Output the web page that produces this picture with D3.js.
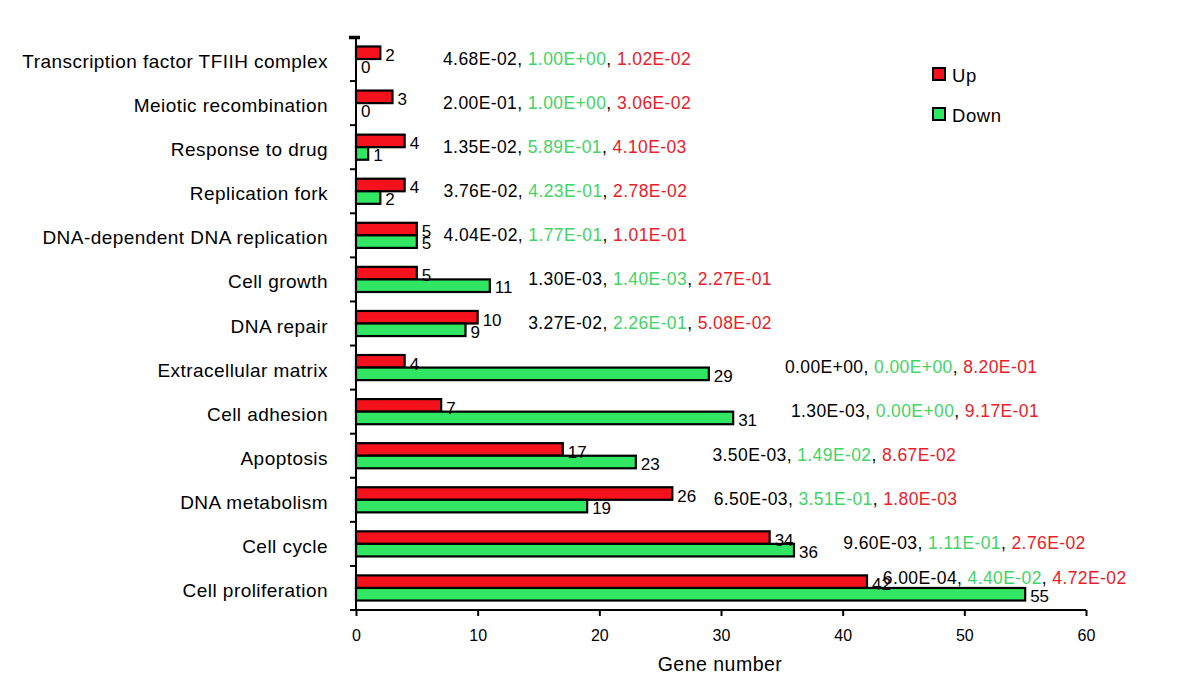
<!DOCTYPE html>
<html><head><meta charset="utf-8">
<script src="https://cdn.jsdelivr.net/npm/d3@7"></script>
<style>body{margin:0;background:#fff;} svg{display:block;font-family:"Liberation Sans",Arial,Helvetica,sans-serif;}</style>
</head><body>
<svg id="chart" width="1200" height="689"></svg>
<script>
const categories = ["Transcription factor TFIIH complex","Meiotic recombination","Response to drug","Replication fork","DNA-dependent DNA replication","Cell growth","DNA repair","Extracellular matrix","Cell adhesion","Apoptosis","DNA metabolism","Cell cycle","Cell proliferation"];
const upValues   = [2,3,4,4,5,5,10,4,7,17,26,34,42];
const downValues = [0,0,1,2,5,11,9,29,31,23,19,36,55];
const pAll  = ["4.68E-02","2.00E-01","1.35E-02","3.76E-02","4.04E-02","1.30E-03","3.27E-02","0.00E+00","1.30E-03","3.50E-03","6.50E-03","9.60E-03","6.00E-04"];
const pDown = ["1.00E+00","1.00E+00","5.89E-01","4.23E-01","1.77E-01","1.40E-03","2.26E-01","0.00E+00","0.00E+00","1.49E-02","3.51E-01","1.11E-01","4.40E-02"];
const pUp   = ["1.02E-02","3.06E-02","4.10E-03","2.78E-02","1.01E-01","2.27E-01","5.08E-02","8.20E-01","9.17E-01","8.67E-02","1.80E-03","2.76E-02","4.72E-02"];
// annotation anchor (in gene-number units) where each p-value line starts
const pAnchor = [7.15,7.15,7.15,7.2,7.2,14.15,14.15,35.25,35.75,29.3,29.4,40.05,43.3];
const xTicks = [0,10,20,30,40,50,60];
const seriesNames = ["Up","Down"];

const RED = "#f5121d", GREEN = "#30e663", PGREEN = "#3fd465", PRED = "#e8202a";
const svg = d3.select("#chart");
const x = d3.scaleLinear().domain([0,60]).range([356,1086]);
const y = d3.scaleBand().domain(categories).range([37,610]).paddingInner(0.43).paddingOuter(0.215);
const sub = d3.scaleBand().domain(seriesNames).range([0,y.bandwidth()]);
const step = y.step();

// bars
const g = svg.append("g");
categories.forEach((c,i)=>{
  [[upValues[i],"Up",RED],[downValues[i],"Down",GREEN]].forEach(([v,s,col])=>{
    if (v>0) g.append("rect").attr("x",x(0)).attr("y",y(c)+sub(s)).attr("width",x(v)-x(0)).attr("height",sub.bandwidth())
      .attr("fill",col).attr("stroke","#000").attr("stroke-width",2.2);
  });
});
categories.forEach((c,i)=>{
  [[upValues[i],"Up"],[downValues[i],"Down"]].forEach(([v,s])=>{
    g.append("text").attr("x",x(v)+5).attr("y",y(c)+sub(s)+sub.bandwidth()+(s==="Up"?2:1.5))
      .attr("font-size",17).attr("fill","#000").text(v);
  });
  const t = g.append("text").attr("x",x(pAnchor[i])).attr("y",y(c)+y.bandwidth()/2+(i===12?-4:5.5))
    .attr("font-size",17.5).attr("letter-spacing",0.4);
  t.append("tspan").attr("fill","#000").text(pAll[i]+", ");
  t.append("tspan").attr("fill",PGREEN).text(pDown[i]);
  t.append("tspan").attr("fill","#000").text(", ");
  t.append("tspan").attr("fill",PRED).text(pUp[i]);
  svg.append("text").attr("x",328).attr("y",y(c)+y.bandwidth()/2+9).attr("text-anchor","end")
    .attr("font-size",19).attr("letter-spacing",0.45).attr("fill","#000").text(c);
});

// y axis
const ya = svg.append("g");
ya.append("line").attr("x1",356).attr("x2",356).attr("y1",37).attr("y2",610).attr("stroke","#000").attr("stroke-width",2);
categories.forEach((c,i)=>{ if(i>0){ const yy=y(c)-(step-y.bandwidth())/2;
  ya.append("line").attr("x1",350).attr("x2",356).attr("y1",yy).attr("y2",yy).attr("stroke","#000").attr("stroke-width",2);}});
ya.append("line").attr("x1",349).attr("x2",360).attr("y1",37.5).attr("y2",37.5).attr("stroke","#000").attr("stroke-width",3.5);

// x axis
const xa = svg.append("g").attr("transform","translate(0,610)")
  .call(d3.axisBottom(x).tickValues(xTicks).tickSize(6).tickPadding(14).tickSizeOuter(0));
xa.select(".domain").attr("stroke","#000").attr("stroke-width",2).attr("d","M350,0H1086");
xa.selectAll(".tick line").attr("stroke","#000").attr("stroke-width",2);
xa.selectAll(".tick text").attr("font-size",16).attr("font-family","Liberation Sans, Arial, sans-serif").attr("fill","#000");
svg.append("text").attr("x",720).attr("y",671).attr("text-anchor","middle").attr("font-size",19.5).attr("letter-spacing",0.5).text("Gene number");

// legend
const lg = svg.append("g");
[["Up",RED,68],["Down",GREEN,108]].forEach(([n,col,yy])=>{
  lg.append("rect").attr("x",933).attr("y",yy).attr("width",12).attr("height",12).attr("fill",col).attr("stroke","#000").attr("stroke-width",2);
  lg.append("text").attr("x",952).attr("y",yy+14).attr("font-size",18.5).attr("letter-spacing",0.6).text(n);
});
</script>
</body></html>
